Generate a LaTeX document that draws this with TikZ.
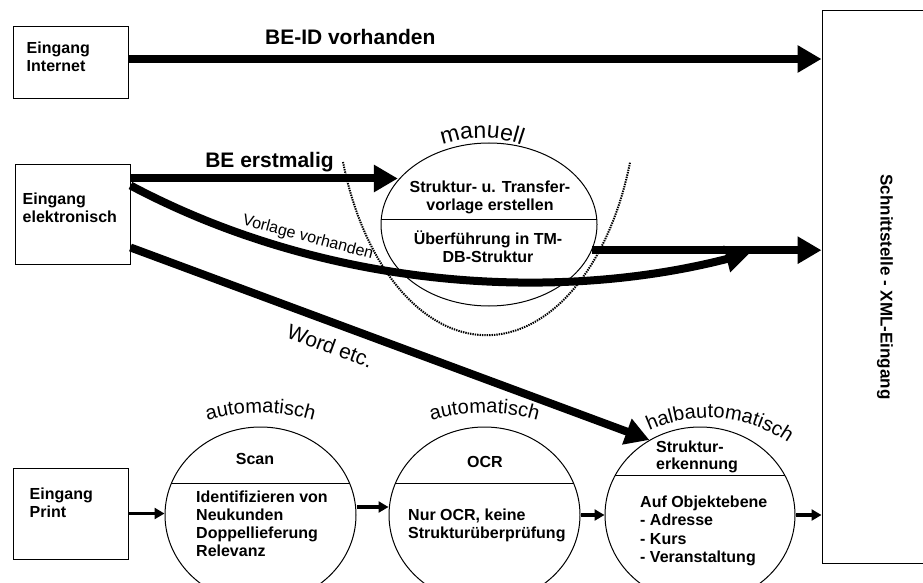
\documentclass[tikz,border=0pt]{standalone}
\usepackage{fontspec}
\setmainfont{Liberation Sans}
\usetikzlibrary{arrows.meta,calc,decorations.text,shapes.geometric}

\newcommand{\labfont}{\fontsize{16}{18}\selectfont\bfseries}
\newcommand{\bigfont}{\fontsize{21}{24}\selectfont\bfseries}
\newcommand{\arcfont}{\fontsize{20}{24}\selectfont}

\tikzset{
  box/.style={draw, line width=1pt, minimum width=115pt, inner sep=0pt},
  txt/.style={font=\labfont, inner sep=0pt, anchor=base},
  blocktxt/.style={txt, anchor=north west, align=left},
  arrowlbl/.style={inner sep=0pt, outer sep=0pt},
  proc/.style={draw, ellipse, line width=1pt, minimum width=191pt, minimum height=176pt, inner sep=0pt},
  fat/.style={line width=8pt, -{Triangle[length=24pt,width=26pt]}},
  slim/.style={line width=3.5pt, -{Triangle[length=10pt,width=11pt]}},
  arctext/.style={decorate, decoration={text along path, text align=center, text={|\arcfont|#1}}},
}

\begin{document}
\begin{tikzpicture}[x=1pt,y=1pt]
        \useasboundingbox (0,0) rectangle (923,582) ;
        % Eingaenge links
        \node[box, minimum height=72pt] (inet) at (70.5,519) {} ;
        \node[box, minimum height=99pt] (elek) at (72.5,367.5) {} ;
        \node[box, minimum height=91pt] (print) at (70.5,68.5) {} ;
        \node[blocktxt] (inettxt) at ([shift={(14,-15.3)}]inet.north west) {Eingang\\Internet} ;
        \node[blocktxt] (elektxt) at ([shift={(8,-28.3)}]elek.north west) {Eingang\\elektronisch} ;
        \node[blocktxt] (printtxt) at ([shift={(17,-20.3)}]print.north west) {Eingang\\Print} ;
        % Schnittstelle rechts
        \node[draw, line width=1pt, minimum width=126pt, minimum height=552pt] (xml) at (885,295) {} ;
        \node[txt, font=\fontsize{17}{20}\selectfont\bfseries, rotate=-90, anchor=center] (xmltxt) at (xml.center) {Schnittstelle - XML-Eingang} ;
        % Bearbeitungsschritte
        \node[proc] (scan) at (260.5,67) {} ;
        \node[proc] (ocr) at (484.5,67) {} ;
        \node[proc, minimum width=190pt] (halb) at (700,67) {} ;
        \node[proc, minimum width=216pt, minimum height=163pt] (manu) at (489,357.5) {} ;
        \draw[line width=1pt] ($(scan.center)+(-89,32)$) -- ($(scan.center)+(89,32)$) ;
        \draw[line width=1pt] ($(ocr.center)+(-89,32)$) -- ($(ocr.center)+(89,32)$) ;
        \draw[line width=1pt] ($(halb.center)+(-84.6,40)$) -- ($(halb.center)+(84.6,40)$) ;
        \draw[line width=1pt] ($(manu.center)+(-107.7,5.5)$) -- ($(manu.center)+(107.7,5.5)$) ;
        \node[txt] (scantop) at (255,118) {Scan} ;
        \node[blocktxt] (scanbot) at (196,91.7) {Identifizieren von\\Neukunden\\Doppellieferung\\Relevanz} ;
        \node[txt] (ocrtop) at (485,115) {OCR} ;
        \node[blocktxt] (ocrbot) at (408,73.7) {Nur OCR, keine\\Strukturüberprüfung} ;
        \node[blocktxt, font=\fontsize{16}{17}\selectfont\bfseries] (halbtop) at (656,140.8) {Struktur-\\erkennung} ;
        \node[blocktxt, font=\fontsize{16}{18.5}\selectfont\bfseries] (halbbot) at (640,86.7) {Auf Objektebene\\- Adresse\\- Kurs\\- Veranstaltung} ;
        \node[txt, anchor=north, align=center] (manutop) at (490,400.8) {Struktur- u. Transfer-\\vorlage erstellen} ;
        \node[txt, anchor=north, align=center] (manubot) at (488,351.5) {Überführung in TM-\\DB-Struktur} ;
        % Bogenschrift
        \path[arctext=automatisch] ($(scan.center)+(0,-88)+(110:190)$) arc (110:70:190) ;
        \path[arctext=automatisch] ($(ocr.center)+(0,-88)+(110:190)$) arc (110:70:190) ;
        \path[arctext=halbautomatisch] ($(halb.center)+(8,-44)+(120:141)$) arc (120:50:141) ;
        \path[decorate, decoration={text along path, text align=center, text={|\fontsize{23}{26}\selectfont|manuell}}]
        ($(manu.center)+(-7,-33.5)+(120:120)$) arc (120:60:120) ;
        % Grenze manuell (gepunktet)
        \draw[line width=2pt, dash pattern=on 1.4pt off 1pt] ([shift={(-146,62.5)}]manu.center) arc (198.4:341.6:151.3 and 253) ;
        % dicke Pfeile
        \coordinate (beid) at ([yshift=4]inet.east) ;
        \draw[fat] (beid) -- (beid -| xml.west)
        node[arrowlbl, pos=0.32, above=14pt, font=\bigfont] (beidlbl) {BE-ID vorhanden} ;
        \coordinate (bes) at ([yshift=-14]elek.north east) ;
        \draw[fat] (bes) -- (bes -| manu.154)
        node[arrowlbl, pos=0.52, above=6.6pt, font=\bigfont] (beslbl) {BE erstmalig} ;
        \coordinate (vvs) at ([yshift=-21]elek.north east) ;
        \coordinate (vve) at (750,329) ;
        \draw[fat] (vvs) .. controls +(200,-106) and +(-190,-49) .. (vve)
        node[arrowlbl, pos=0.28, sloped, above=8pt, font=\fontsize{16}{18}\selectfont] (vvlbl) {Vorlage vorhanden} ;
        \coordinate (wes) at ([yshift=17]elek.south east) ;
        \draw[fat] (wes) -- (halb.124)
        node[arrowlbl, pos=0.40, sloped, below=15pt, font=\fontsize{21}{24}\selectfont] (wordlbl) {Word etc.} ;
        \draw[fat] (manu.346) -- (manu.346 -| xml.west) ;
        % Print-Strecke
        \draw[slim] (print.east) -- (print.east -| scan.west) ;
        \draw[slim] ([yshift=8]scan.east) -- ([yshift=8]ocr.west) ;
        \draw[slim] (ocr.east) -- (halb.west) ;
        \draw[slim] (halb.east) -- (halb.east -| xml.west) ;
\end{tikzpicture}
\end{document}
